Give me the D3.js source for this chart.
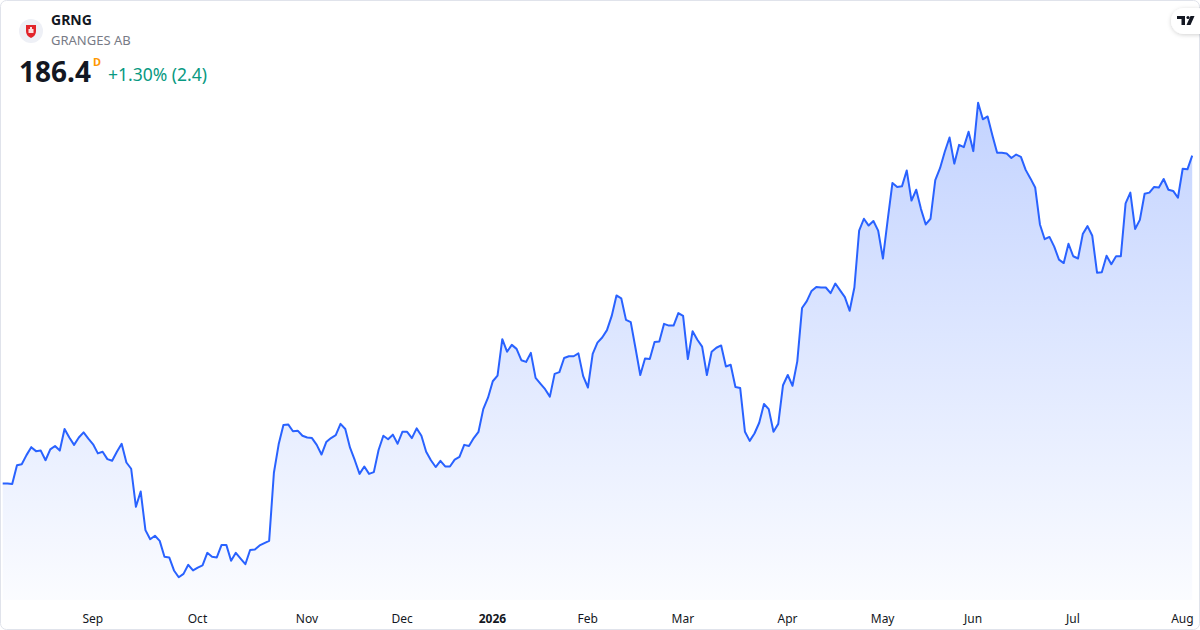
<!DOCTYPE html>
<html lang="en">
<head>
  <meta charset="utf-8">
  <title>GRNG</title>
  <script src="https://d3js.org/d3.v7.min.js"></script>
  <style>
    body {
      margin: 0;
      background: #ffffff;
      font-family: 'Noto Sans', 'Open Sans', sans-serif;
    }
    .line {
      fill: none;
      stroke: #2962ff;
      stroke-width: 2px;
      stroke-linejoin: round;
    }
    .axis text {
      font-size: 12px;
      fill: #131722;
    }
  </style>
</head>
<body>
<div id="chart"></div>

<script>
  // daily closes, Aug 2025 -> Aug 2026
  var closes = [
    128.7, 128.7, 128.6, 131.9, 132.1, 133.7, 135.1, 134.4, 134.5, 132.8,
    134.7, 135.3, 134.5, 138.3, 136.8, 135.5, 136.8, 137.7, 136.6, 135.6,
    134.0, 134.3, 133.0, 132.7, 134.3, 135.7, 132.4, 131.3, 124.6, 127.3,
    120.5, 118.9, 119.5, 118.6, 115.8, 115.7, 113.4, 112.2, 112.8, 114.4,
    113.4, 113.9, 114.3, 116.5, 115.8, 115.7, 117.9, 117.9, 115.1, 116.5,
    115.5, 114.5, 117.0, 117.1, 117.8, 118.2, 118.6, 130.6, 135.6, 139.0,
    139.1, 137.9, 138.0, 137.1, 136.8, 136.7, 135.5, 133.8, 136.0, 136.7,
    137.2, 139.2, 138.3, 135.0, 132.8, 130.4, 131.7, 130.4, 130.7, 134.6,
    137.1, 136.5, 137.3, 135.7, 137.8, 137.8, 136.7, 138.4, 137.1, 134.3,
    132.8, 131.6, 132.7, 131.7, 131.7, 132.9, 133.4, 135.5, 135.3, 136.7,
    137.8, 141.8, 143.8, 146.7, 147.7, 154.1, 151.9, 153.1, 152.4, 150.4,
    150.1, 151.7, 147.3, 146.3, 145.3, 144.0, 148.0, 148.3, 150.8, 151.1,
    151.1, 151.6, 147.6, 145.6, 151.5, 153.5, 154.4, 155.7, 158.2, 161.8,
    161.3, 157.5, 157.1, 152.5, 147.8, 150.7, 150.6, 153.6, 153.7, 156.8,
    156.5, 156.5, 158.7, 158.2, 150.6, 155.5, 154.0, 152.8, 147.8, 151.9,
    152.6, 153.0, 149.3, 149.6, 145.7, 145.5, 137.8, 136.2, 137.5, 139.4,
    142.7, 141.8, 137.8, 139.2, 146.0, 147.8, 145.9, 150.2, 159.6, 160.8,
    162.6, 163.3, 163.2, 163.2, 162.2, 163.9, 162.7, 161.5, 159.1, 163.2,
    173.2, 175.3, 174.1, 174.9, 173.2, 168.3, 175.1, 181.6, 180.9, 181.0,
    183.8, 178.5, 180.4, 177.0, 174.3, 175.3, 182.1, 184.2, 187.1, 189.6,
    185.0, 188.3, 187.9, 190.6, 187.2, 195.7, 192.8, 193.3, 190.0, 186.9,
    186.9, 186.8, 186.0, 186.6, 186.2, 183.9, 182.4, 180.8, 174.3, 171.7,
    172.1, 170.4, 168.1, 167.5, 170.9, 168.7, 168.3, 172.6, 174.0, 172.3,
    165.8, 165.9, 168.8, 167.3, 168.7, 168.7, 178.0, 179.9, 173.5, 175.1,
    179.7, 179.9, 180.9, 180.8, 182.3, 180.4, 180.2, 179.0, 184.1, 184.0,
    186.4
  ];

  // index of the first session shown under each label
  var monthTicks = [19, 41, 64, 84, 103, 123, 143, 165, 185, 204, 225, 248];
  var monthLabels = ["Sep", "Oct", "Nov", "Dec", "2026", "Feb", "Mar", "Apr", "May", "Jun", "Jul", "Aug"];

  var symbol = "GRNG";
  var company = "GRANGES AB";
  var lastPrice = "186.4";
  var change = "+1.30% (2.4)";

  var width = 1200, height = 630;

  var svg = d3.select("#chart")
          .append("svg")
          .attr("width", width)
          .attr("height", height);

  // card border
  svg.append("rect")
          .attr("x", 0.5).attr("y", 0.5)
          .attr("width", width - 1).attr("height", height - 1)
          .attr("rx", 6)
          .attr("fill", "#ffffff")
          .attr("stroke", "#e0e3eb");

  var x = d3.scaleLinear()
          .domain([0, closes.length - 1])
          .range([2.7, 1192.2]);

  var y = d3.scaleLinear()
          .domain([102.92, 213.8])
          .range([630, 0]);

  var areaBottom = 600;

  // gradient under the line
  var defs = svg.append("defs");
  var grad = defs.append("linearGradient")
          .attr("id", "areaGrad")
          .attr("gradientUnits", "userSpaceOnUse")
          .attr("x1", 0).attr("x2", 0)
          .attr("y1", y(d3.max(closes))).attr("y2", areaBottom);
  grad.append("stop").attr("offset", "0%").attr("stop-color", "#2962ff").attr("stop-opacity", 0.28);
  grad.append("stop").attr("offset", "100%").attr("stop-color", "#2962ff").attr("stop-opacity", 0.02);

  var filter = defs.append("filter").attr("id", "shadow")
          .attr("x", "-50%").attr("y", "-50%").attr("width", "200%").attr("height", "200%");
  filter.append("feDropShadow")
          .attr("dx", 0).attr("dy", 1).attr("stdDeviation", 2)
          .attr("flood-color", "#000").attr("flood-opacity", 0.18);

  var area = d3.area()
          .x((d, i) => x(i))
          .y0(areaBottom)
          .y1(d => y(d));

  var line = d3.line()
          .x((d, i) => x(i))
          .y(d => y(d));

  svg.append("path")
          .datum(closes)
          .attr("d", area)
          .attr("fill", "url(#areaGrad)");

  svg.append("path")
          .datum(closes)
          .attr("class", "line")
          .attr("d", line);

  // month axis
  var axis = svg.append("g")
          .attr("class", "axis")
          .attr("transform", "translate(-0.8,606)")
          .call(d3.axisBottom(x)
                  .tickValues(monthTicks)
                  .tickFormat((d, i) => monthLabels[i])
                  .tickSize(0)
                  .tickPadding(8.5));
  axis.select(".domain").remove();
  axis.selectAll("text")
          .style("font-family", "'Noto Sans', sans-serif")
          .style("font-weight", d => monthLabels[monthTicks.indexOf(d)] === "2026" ? "700" : "400");

  // header
  svg.append("circle")
          .attr("cx", 31).attr("cy", 31).attr("r", 12)
          .attr("fill", "#eef0f6");
  svg.append("path")
          .attr("d", "M26,25 L36,25 L36,31 Q36,36 31,38 Q26,36 26,31 Z")
          .attr("fill", "#e2242b");
  svg.append("path")
          .attr("d", "M28.5,29 L33.5,29 L33.5,33 L28.5,33 Z M30,27 L32,27 L32,29 L30,29 Z")
          .attr("fill", "#ffffff")
          .attr("opacity", 0.85);

  svg.append("text")
          .attr("x", 51).attr("y", 25)
          .style("font-size", "14px").style("font-weight", "700")
          .attr("fill", "#131722")
          .text(symbol);

  svg.append("text")
          .attr("x", 51).attr("y", 45)
          .style("font-size", "13px")
          .attr("fill", "#787b86")
          .text(company);

  svg.append("text")
          .attr("x", 19).attr("y", 82)
          .style("font-size", "28px").style("font-weight", "700")
          .attr("fill", "#131722")
          .text(lastPrice);

  svg.append("text")
          .attr("x", 93).attr("y", 66)
          .style("font-size", "11px").style("font-weight", "700")
          .attr("fill", "#ff9800")
          .text("D");

  svg.append("text")
          .attr("x", 108).attr("y", 81)
          .style("font-size", "17.5px")
          .attr("fill", "#089981")
          .text(change);

  // TradingView badge
  svg.append("rect")
          .attr("x", 1171).attr("y", 8)
          .attr("width", 40).attr("height", 26)
          .attr("rx", 13)
          .attr("fill", "#ffffff")
          .attr("filter", "url(#shadow)");
  svg.append("path")
          .attr("d", "M1177,16 L1185,16 L1185,25 L1181.5,25 L1181.5,19 L1177,19 Z")
          .attr("fill", "#131722");
  svg.append("circle")
          .attr("cx", 1188).attr("cy", 17.5).attr("r", 1.6)
          .attr("fill", "#131722");
  svg.append("path")
          .attr("d", "M1190.5,16 L1194.5,16 L1190.5,25 L1186.5,25 Z")
          .attr("fill", "#131722");
</script>

</body>
</html>
